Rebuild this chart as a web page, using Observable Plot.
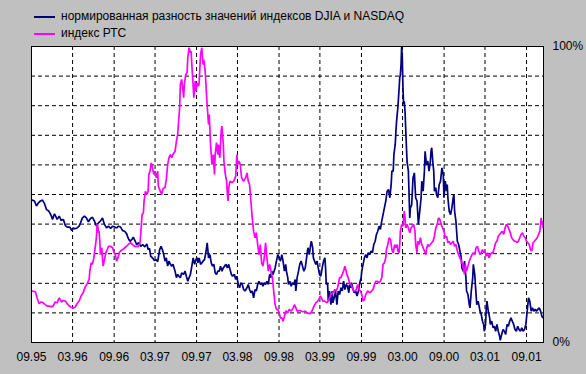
<!DOCTYPE html>
<html><head><meta charset="utf-8">
<script src="https://cdn.jsdelivr.net/npm/d3@7"></script>
<script src="https://cdn.jsdelivr.net/npm/@observablehq/plot@0.6"></script>
<style>
html,body{margin:0;padding:0;background:#c0c0c0;}
#wrap{position:relative;width:586px;height:374px;overflow:hidden;font-family:"Liberation Sans",Arial,sans-serif;}
#legend{position:relative;height:40px;font-size:12px;color:#000;}
.row{position:absolute;left:34px;height:15px;line-height:15px;white-space:nowrap;}
.sw{position:absolute;left:0;top:7px;width:21px;height:2px;}
.tx{position:absolute;left:27px;top:0;}
#chart svg{display:block;}
</style></head><body>
<div id="wrap"><div id="legend"></div><div id="chart"></div></div>
<script>
// Series names and colours
const seriesNames = ["нормированная разность значений индексов DJIA и NASDAQ", "индекс РТС"];
const seriesColors = ["#000080", "#ff00ff"];
// Bottom tick labels (month.year)
const tickLabels = ["09.95","03.96","09.96","03.97","09.97","03.98","09.98","03.99","09.99","03.00","09.00","03.01","09.01"];
const yTicks = [0, 100];
const yGrid = [10,20,30,40,50,60,70,80,90];
const endMonth = 74.47; // months after 09.95 at the right edge

// [months since 1 Sep 1995, value %]
const spread = [
[0.10,48.1],[0.44,47.8],[0.73,46.1],[1.02,47.2],[1.31,47.8],[1.60,48.1],[1.89,46.9],[2.18,44.9],[2.52,44.4],[2.86,43.0],[3.06,41.6],[3.35,43.5],[3.73,41.6],[4.02,42.7],[4.32,41.2],[4.61,41.6],[4.90,39.5],[5.19,39.0],[5.58,39.0],[5.87,37.8],[6.06,38.7],[6.35,38.4],[6.64,38.7],[6.93,39.3],[7.13,40.4],[7.42,42.1],[7.71,42.7],[8.00,42.1],[8.29,40.8],[8.58,41.9],[8.87,42.3],[9.16,41.0],[9.46,39.3],[9.75,40.4],[10.04,41.0],[10.33,42.1],[10.62,39.9],[10.91,38.7],[11.20,39.3],[11.49,38.5],[11.78,39.3],[12.07,39.0],[12.36,38.7],[12.65,39.3],[12.95,39.0],[13.24,37.8],[13.53,37.6],[13.82,36.7],[14.01,35.4],[14.30,34.2],[14.59,34.8],[14.79,35.6],[15.08,34.2],[15.27,33.1],[15.56,33.7],[15.86,32.5],[16.15,33.1],[16.44,32.3],[16.73,33.3],[16.92,31.4],[17.12,31.8],[17.31,29.2],[17.60,28.6],[17.89,27.7],[18.18,28.0],[18.38,27.3],
[18.47,28.6],[18.66,31.4],[18.86,32.5],[19.05,31.4],[19.25,29.7],[19.44,27.5],[19.63,28.6],[19.83,25.8],[20.02,27.5],[20.22,26.4],[20.41,25.8],[20.60,26.4],[20.89,24.1],[21.09,21.9],[21.28,23.0],[21.48,22.4],[21.67,21.9],[21.86,23.5],[22.15,23.0],[22.35,24.1],[22.54,22.4],[22.74,20.7],[22.93,21.9],[23.12,23.0],[23.32,25.8],[23.51,28.6],[23.71,26.4],[23.90,28.0],[24.09,28.6],[24.19,26.9],[24.38,28.6],[24.58,26.4],[24.77,26.9],[24.97,27.5],[25.16,28.0],[25.35,30.3],[25.55,33.7],[25.74,28.6],[25.94,29.7],[26.13,26.9],[26.32,25.8],[26.52,26.4],[26.71,23.5],[26.91,23.0],[27.10,24.1],[27.29,24.1],[27.49,25.8],[27.68,24.1],[27.88,25.2],[28.07,25.8],[28.26,26.4],[28.46,25.2],[28.65,26.4],[28.84,24.7],[29.04,23.0],[29.23,22.4],[29.52,23.0],[29.72,21.3],[29.91,22.4],[30.11,19.6],[30.30,18.5],[30.49,20.2],[30.69,19.6],[30.88,17.9],[31.08,17.4],[31.37,18.5],[31.56,19.6],[31.75,17.9],[31.95,16.8],[32.14,17.4],[32.34,15.1],[32.53,17.9],[32.72,17.4],[32.92,19.6],[33.11,20.7],[33.31,19.6],[33.50,20.2],[33.69,19.0],[33.89,20.2],[34.08,19.6],[34.27,20.7],[34.47,19.6],[34.66,23.0],[34.86,21.9],[34.95,24.1],[35.15,23.0],[35.44,25.2],[35.63,27.5],[35.83,29.7],[36.02,28.6],[36.21,27.5],[36.41,29.7],[36.60,27.5],[36.80,24.1],[36.99,26.4],
[37.09,24.1],[37.28,21.9],[37.38,19.6],[37.57,20.7],[37.77,19.0],[37.96,20.2],[38.16,19.6],[38.35,21.3],[38.45,17.4],[38.64,21.9],[38.84,24.1],[39.03,26.4],[39.22,27.5],[39.42,25.8],[39.61,24.1],[39.81,25.2],[40.00,28.6],[40.19,32.0],[40.39,29.7],[40.58,33.1],[40.68,34.2],[40.87,32.0],[40.97,28.6],[41.16,27.5],[41.36,26.4],[41.55,27.5],[41.74,25.2],[41.94,23.0],[42.13,22.4],[42.33,25.2],[42.52,27.5],[42.71,28.6],[42.81,25.2],[42.91,19.6],[43.10,20.2],[43.20,14.0],[43.39,17.4],[43.59,12.8],[43.78,17.4],[43.88,13.4],[44.07,15.1],[44.27,17.4],[44.46,12.8],[44.65,17.4],[44.85,16.2],[45.04,18.5],[45.23,17.4],[45.43,20.7],[45.62,17.9],[45.82,19.6],[46.01,19.0],[46.20,16.8],[46.30,19.6],[46.50,18.5],[46.59,20.2],[46.79,17.9],[46.98,16.8],[47.17,17.4],[47.37,15.7],[47.56,17.4],[47.76,20.2],[47.95,21.9],[48.05,24.1],[48.24,26.4],[48.43,28.6],[48.63,29.7],[48.82,28.6],[49.02,30.3],[49.21,29.7],[49.40,30.9],[49.60,30.3],[49.79,33.1],[49.99,34.2],[50.18,36.5],[50.37,37.6],[50.57,39.3],[50.76,38.2],[50.96,41.0],[51.15,43.2],[51.34,45.5],[51.54,47.8],[51.73,51.1],[51.93,51.7],[52.12,48.9],[52.31,53.4],[52.41,57.9],[52.60,57.9],[52.70,63.5],[52.89,66.9],[52.99,71.4],[53.09,74.8],[53.28,79.3],[53.48,86.0],[53.57,89.4],[53.67,90.5],[53.77,93.9],[53.86,100],[53.96,96.2],[54.06,86.0],[54.15,80.4],[54.25,81.5],[54.35,78.2],[54.54,66.9],[54.64,61.3],[54.83,57.9],[54.93,50.0],[55.03,42.1],[55.12,45.5],[55.32,46.6],[55.51,55.6],[55.71,57.3],
[55.90,48.9],[56.10,47.8],[56.29,39.9],[56.49,44.4],[56.68,48.9],[56.78,54.5],[56.97,51.1],[57.16,57.9],[57.26,64.6],[57.46,60.1],[57.65,61.3],[57.84,57.9],[58.04,61.3],[58.13,64.6],[58.23,65.8],[58.42,60.1],[58.52,57.9],[58.62,51.1],[58.81,52.3],[58.91,50.0],[59.10,48.9],[59.30,53.4],[59.49,54.5],[59.69,59.0],[59.88,56.8],[59.98,48.9],[60.17,54.5],[60.36,51.1],[60.46,53.4],[60.56,48.9],[60.75,44.4],[60.95,43.2],[61.14,45.5],[61.33,48.9],[61.43,50.0],[61.53,44.4],[61.72,41.0],[61.82,37.6],[61.92,34.2],[62.11,33.1],[62.30,30.9],[62.50,28.6],[62.59,25.2],[62.79,24.1],[62.98,27.5],[63.18,21.9],[63.27,17.4],[63.47,16.2],[63.66,12.8],[63.76,11.7],[63.95,17.4],[64.15,21.9],[64.24,26.4],[64.44,23.0],[64.53,19.6],[64.73,12.8],[64.92,14.0],[65.12,11.7],[65.21,10.6],[65.41,9.5],[65.60,7.2],[65.79,6.1],[65.89,3.8],[66.08,6.1],[66.18,11.7],[66.28,14.0],[66.47,10.6],[66.67,8.3],[66.76,6.1],[66.96,7.2],[67.15,5.0],[67.35,5.5],[67.54,3.8],[67.73,6.1],[67.93,3.8],[68.12,2.1],[68.22,0.7],[68.41,2.7],[68.61,4.4],[68.80,3.8],[68.99,2.7],[69.19,6.1],[69.38,5.5],[69.58,7.2],[69.77,8.3],[69.96,7.2],[70.16,6.1],[70.35,4.4],[70.55,3.8],[70.74,5.5],[70.93,4.4],[71.13,3.8],[71.32,5.0],[71.51,3.8],[71.71,4.4],[71.90,6.1],[72.10,10.6],[72.29,15.1],[72.48,14.0],[72.68,10.6],[72.87,11.7],[73.07,10.6],[73.26,11.2],[73.45,10.6],[73.65,11.2],[73.84,11.7],[74.04,10.6],[74.23,8.9],[74.42,8.3]
];

const rts = [
[0.10,17.4],[0.58,17.1],[0.82,15.1],[1.12,13.1],[1.41,13.7],[1.70,13.4],[1.99,12.8],[2.28,12.3],[2.57,12.3],[2.86,12.1],[3.15,12.3],[3.44,13.7],[3.73,13.4],[4.02,15.1],[4.32,13.7],[4.61,14.2],[4.90,14.0],[5.19,13.1],[5.48,12.3],[5.77,11.9],[6.06,11.7],[6.35,11.9],[6.64,13.1],[6.93,14.0],[7.22,15.7],[7.52,16.8],[7.81,18.7],[8.10,19.8],[8.39,21.3],[8.49,24.1],[8.68,26.9],[8.87,26.4],[9.07,28.6],[9.26,32.0],[9.36,33.7],[9.46,35.9],[9.55,39.9],[9.65,39.3],[9.75,37.1],[9.85,37.6],[9.94,34.2],[10.04,29.7],[10.14,30.9],[10.23,32.0],[10.33,28.6],[10.43,25.8],[10.62,28.0],[10.81,30.3],[11.01,31.4],[11.20,32.5],[11.49,32.5],[11.78,32.0],[11.98,30.3],[12.17,29.7],[12.36,27.5],[12.56,28.6],[12.75,30.3],[12.95,30.9],[13.24,31.4],[13.53,32.0],[13.82,32.5],[14.11,33.3],[14.40,33.7],[14.69,33.1],[14.98,32.5],[15.27,32.5],[15.56,32.5],[15.76,33.7],[15.86,36.5],[16.05,43.2],[16.24,43.8],[16.34,47.8],[16.53,51.1],[16.73,50.0],[16.92,51.1],[17.02,56.8],[17.21,57.9],[17.41,60.7],[17.60,59.0],[17.79,56.8],[17.99,57.9],[18.18,55.6],[18.38,57.9],
[18.47,52.8],[18.76,51.1],[18.95,50.0],[19.15,52.0],[19.44,52.3],[19.63,55.1],[19.83,60.1],[20.02,62.4],[20.22,63.5],[20.41,62.4],[20.60,63.5],[20.89,64.6],[21.09,68.0],[21.28,70.3],[21.38,73.7],[21.57,79.3],[21.67,87.2],[21.86,88.9],[22.06,84.9],[22.15,82.7],[22.25,87.2],[22.45,90.5],[22.64,91.1],[22.74,96.2],[22.93,99.6],[23.12,97.9],[23.22,98.4],[23.32,93.9],[23.41,90.5],[23.61,82.7],[23.80,88.3],[23.90,84.9],[24.09,87.7],[24.29,86.6],[24.38,87.7],[24.58,97.3],[24.77,99.6],[24.87,96.2],[24.97,93.9],[25.06,95.6],[25.26,91.7],[25.45,83.8],[25.55,79.9],[25.74,73.7],[25.84,77.0],[26.03,66.9],[26.23,60.1],[26.42,63.5],[26.52,60.1],[26.61,56.8],[26.71,63.5],[26.91,67.5],[27.10,63.5],[27.20,66.9],[27.39,62.4],[27.58,71.4],[27.68,73.1],[27.88,66.9],[27.97,61.3],[28.17,56.8],[28.36,54.5],[28.46,50.0],[28.55,47.8],[28.65,52.3],[28.84,54.5],[29.14,54.0],[29.43,54.5],[29.72,56.2],[29.91,63.5],[30.01,60.1],[30.20,61.3],[30.40,60.1],[30.59,55.6],[30.88,54.5],[31.17,55.6],[31.37,57.3],[31.56,54.5],[31.75,53.4],[31.95,47.8],[32.14,42.1],[32.34,37.6],[32.53,35.4],[32.72,37.1],[32.92,33.1],[33.11,29.7],[33.31,33.1],[33.50,26.9],[33.69,25.8],[33.89,28.6],[34.08,33.7],[34.27,28.6],[34.47,24.1],[34.66,26.4],[34.86,24.1],[35.05,21.9],[35.24,17.4],[35.44,12.8],[35.63,11.2],[35.83,11.2],[36.02,10.0],[36.21,8.3],[36.41,8.3],[36.60,7.2],[36.80,8.9],[36.99,10.6],
[37.09,10.6],[37.28,10.0],[37.48,11.2],[37.77,10.6],[38.06,11.7],[38.25,12.8],[38.45,11.7],[38.64,10.6],[39.03,10.8],[39.42,10.4],[39.81,10.6],[40.10,10.0],[40.48,9.7],[40.77,10.6],[41.07,12.3],[41.36,13.4],[41.65,14.0],[41.84,14.5],[42.04,15.7],[42.23,15.1],[42.42,14.0],[42.71,14.0],[43.00,13.4],[43.20,14.0],[43.39,15.1],[43.59,16.2],[43.88,16.8],[44.17,17.9],[44.36,17.4],[44.56,18.5],[44.85,21.9],[45.04,21.9],[45.23,23.0],[45.43,24.1],[45.62,25.8],[45.82,24.1],[45.91,23.0],[46.11,21.9],[46.30,20.2],[46.50,19.6],[46.69,18.5],[46.88,17.4],[47.08,17.4],[47.27,17.9],[47.46,19.6],[47.66,17.9],[47.85,17.4],[48.05,16.2],[48.24,14.0],[48.43,14.5],[48.63,16.2],[48.92,17.4],[49.21,16.8],[49.50,17.4],[49.69,17.9],[49.89,19.6],[50.08,20.7],[50.28,20.7],[50.57,20.2],[50.76,20.7],[50.96,21.9],[51.15,26.4],[51.34,26.9],[51.54,28.6],[51.63,31.4],[51.83,33.1],[52.02,35.4],[52.22,34.8],[52.41,31.4],[52.60,30.3],[52.80,33.1],[52.99,32.0],[53.18,33.1],[53.28,30.9],[53.48,30.3],[53.57,33.1],[53.67,37.6],[53.86,39.9],[54.06,39.3],[54.25,44.4],[54.35,42.1],[54.45,38.7],[54.64,39.9],[54.83,38.7],[55.03,37.1],[55.22,38.7],[55.41,39.3],[55.61,39.9],[55.80,37.6],
[55.90,33.1],[56.10,30.3],[56.20,34.2],[56.39,33.1],[56.58,35.4],[56.78,33.1],[56.97,32.0],[57.16,30.9],[57.36,29.7],[57.46,31.4],[57.65,33.1],[57.84,32.5],[58.04,33.1],[58.23,33.7],[58.42,34.2],[58.62,35.9],[58.81,38.7],[59.01,39.9],[59.20,42.1],[59.39,41.6],[59.59,39.9],[59.78,38.7],[59.98,37.6],[60.17,35.4],[60.36,35.9],[60.56,33.7],[60.75,34.2],[60.95,33.1],[61.14,33.7],[61.33,34.2],[61.53,32.5],[61.72,33.1],[61.92,30.9],[62.11,29.7],[62.30,28.6],[62.50,27.5],[62.69,26.4],[62.88,24.1],[62.98,23.0],[63.08,26.4],[63.27,24.1],[63.47,25.8],[63.66,27.5],[63.85,28.6],[64.05,29.7],[64.24,30.3],[64.44,29.7],[64.63,32.0],[64.82,32.5],[65.02,30.9],[65.21,29.7],[65.41,30.3],[65.60,31.4],[65.79,30.3],[65.99,30.9],[66.18,29.2],[66.37,30.3],[66.57,28.6],[66.76,29.7],[66.96,30.3],[67.15,30.3],[67.35,32.0],[67.54,33.7],[67.73,34.2],[67.93,35.9],[68.12,36.5],[68.32,37.1],[68.51,37.6],[68.70,36.5],[68.90,38.7],[69.09,39.9],[69.29,39.3],[69.48,38.2],[69.67,37.1],[69.87,35.4],[70.06,34.8],[70.26,34.2],[70.45,34.2],[70.64,33.7],[70.84,34.2],[71.03,35.4],[71.22,36.5],[71.42,37.1],[71.61,35.9],[71.81,35.4],[72.00,34.2],[72.19,33.7],[72.39,33.1],[72.58,31.4],[72.77,30.9],[72.97,33.7],[73.16,34.2],[73.36,34.8],[73.55,35.4],[73.74,36.5],[73.94,37.6],[74.04,39.9],[74.13,42.1],[74.23,39.9],[74.33,41.0],[74.42,38.7]
];

const START = new Date(Date.UTC(1995, 8, 1));
function toDate(m) {
  const i = Math.floor(m);
  const a = d3.utcMonth.offset(START, i), b = d3.utcMonth.offset(START, i + 1);
  return new Date(+a + (m - i) * (b - a));
}
const xTicks = tickLabels.map(s => {
  const [mm, yy] = s.split(".").map(Number);
  return new Date(Date.UTC(yy < 50 ? 2000 + yy : 1900 + yy, mm - 1, 1));
});

const rows = [];
spread.forEach(([m, v]) => rows.push({date: toDate(m), value: v, series: seriesNames[0]}));
rts.forEach(([m, v]) => rows.push({date: toDate(m), value: v, series: seriesNames[1]}));

// legend
const legend = document.getElementById("legend");
seriesNames.forEach((name, i) => {
  const r = document.createElement("div");
  r.className = "row";
  r.style.top = (9 + i * 17) + "px";
  const sw = document.createElement("div");
  sw.className = "sw";
  sw.style.backgroundColor = seriesColors[i];
  const tx = document.createElement("div");
  tx.className = "tx";
  tx.textContent = name;
  r.appendChild(sw);
  r.appendChild(tx);
  legend.appendChild(r);
});

const chart = Plot.plot({
  width: 586,
  height: 334,
  marginTop: 6,
  marginBottom: 32,
  marginLeft: 31,
  marginRight: 43,
  style: {background: "transparent", fontFamily: "'Liberation Sans', Arial, sans-serif", fontSize: "12px", color: "#000"},
  x: {type: "utc", domain: [START, toDate(endMonth)], ticks: xTicks, tickFormat: d3.utcFormat("%m.%y"), tickSize: 0, tickPadding: 10, label: null},
  y: {domain: [0, 100], ticks: yTicks, tickFormat: d => d + "%", tickSize: 0, tickPadding: 9, label: null, axis: "right"},
  color: {domain: seriesNames, range: seriesColors},
  marks: [
    Plot.frame({fill: "white"}),
    Plot.ruleX(xTicks.slice(1), {stroke: "#000", strokeWidth: 1, strokeDasharray: "4,3"}),
    Plot.ruleY(yGrid, {stroke: "#000", strokeWidth: 1, strokeDasharray: "4,3"}),
    Plot.line(rows, {x: "date", y: "value", z: "series", stroke: "series", strokeWidth: 1.7, strokeLinejoin: "miter", curve: "linear"}),
    Plot.frame({stroke: "#000", strokeWidth: 1})
  ]
});
document.getElementById("chart").appendChild(chart);
</script>
</body></html>
